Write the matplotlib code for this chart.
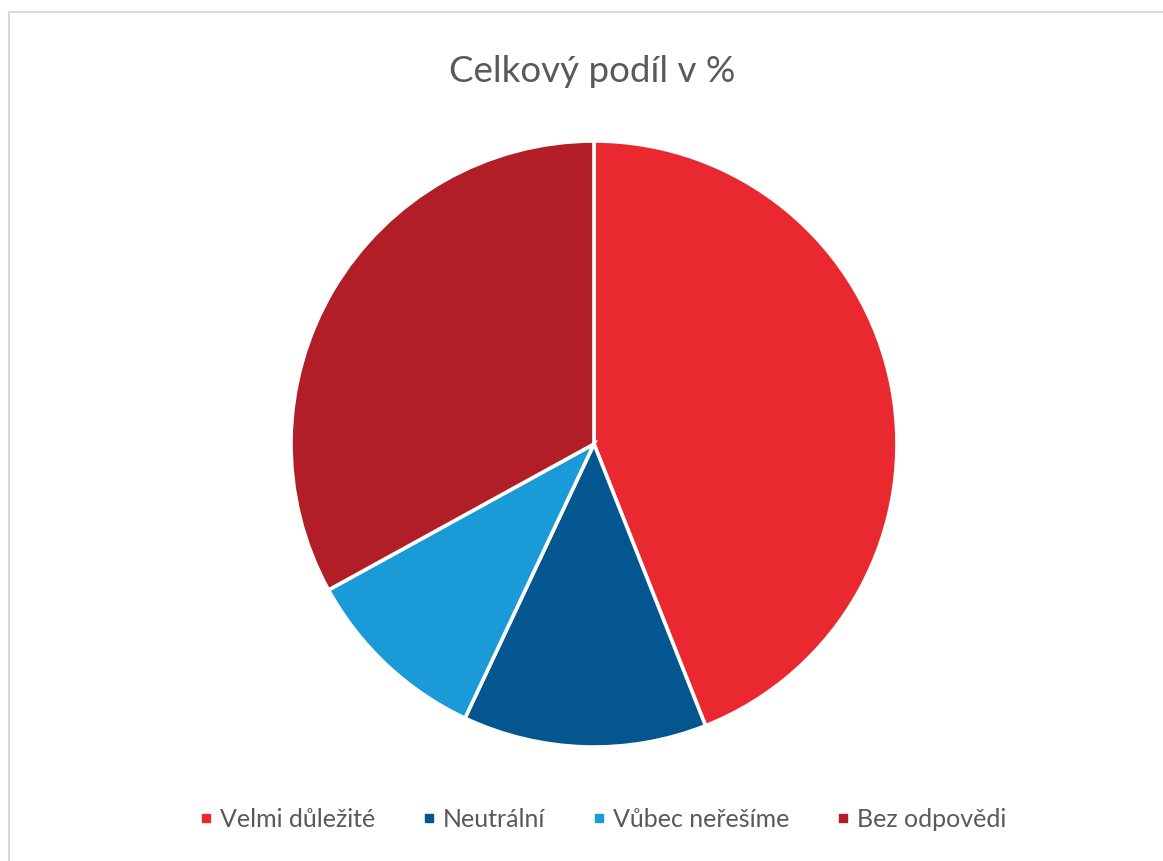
import matplotlib
matplotlib.use("Agg")
import matplotlib.pyplot as plt
from matplotlib.lines import Line2D
from matplotlib.patches import Rectangle

plt.rcParams['font.family'] = ['Lato', 'DejaVu Sans']

labels = ["Velmi důležité", "Neutrální", "Vůbec neřešíme", "Bez odpovědi"]
values = [44, 13, 10, 33]
colors = ["#E9282F", "#03568F", "#1A9AD6", "#B21E28"]

W, H = 1163, 862
fig = plt.figure(figsize=(W / 100, H / 100), dpi=100)

# outer chart frame (light grey, runs off right/bottom)
fig.patches.append(Rectangle((9 / W, -0.1), 1.2, (H - 13) / H + 0.1,
                             transform=fig.transFigure, fill=False,
                             edgecolor="#D9D9D9", linewidth=1.5))

cx, cy, r = 594, H - 445, 303
ax = fig.add_axes([(cx - r) / W, (cy - r) / H, 2 * r / W, 2 * r / H])
ax.pie(values, colors=colors, startangle=90, counterclock=False, radius=1,
       wedgeprops=dict(edgecolor="white", linewidth=2.6))
ax.set_xlim(-1, 1)
ax.set_ylim(-1, 1)
ax.set_aspect("equal")
ax.axis("off")

fig.text(592 / W, 1 - 72 / H, "Celkový podíl v %", ha="center", va="center",
         fontsize=26.5, color="#595959")

handles = [Line2D([], [], marker="s", linestyle="none", markersize=5.5,
                  markerfacecolor=c, markeredgecolor=c) for c in colors]
fig.legend(handles, labels, loc="center", bbox_to_anchor=(603 / W, 1 - 820 / H),
           ncol=4, frameon=False, fontsize=18, labelcolor="#595959",
           handlelength=0.5, handletextpad=0.3, columnspacing=1.9,
           borderpad=0, borderaxespad=0)

fig.savefig("out.png", dpi=100, facecolor="white")
